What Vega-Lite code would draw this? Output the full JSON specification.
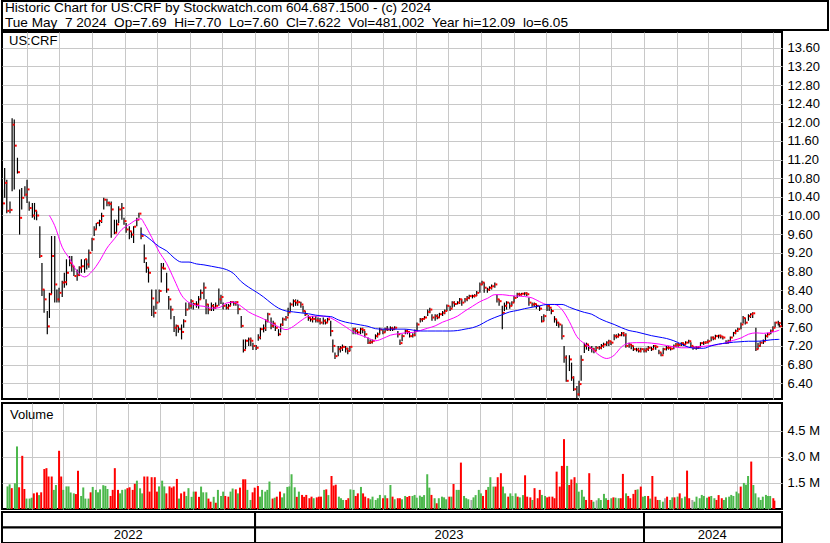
{
"$schema":"https://vega.github.io/schema/vega-lite/v6.json",
"background":"white",
"padding":0,
"spacing":0,
"config":{
 "view":{"stroke":"#000","strokeWidth":2},
 "font":"Liberation Sans",
 "axis":{"gridColor":"#c8c8c8","gridWidth":1,"gridOpacity":1,"labelFont":"Liberation Sans","labelColor":"#000","labelFontSize":13,"ticks":false,"domain":false,"labelOverlap":false},
 "text":{"font":"Liberation Sans","fontSize":13,"color":"#000"}
},
"datasets":{
"hdr":[{"r":1,"t":"Historic Chart for US:CRF by Stockwatch.com 604.687.1500 - (c) 2024"},{"r":2,"t":"Tue May\u00a0 7 2024\u00a0 Op=7.69\u00a0 Hi=7.70\u00a0 Lo=7.60\u00a0 Cl=7.622\u00a0 Vol=481,002\u00a0 Year hi=12.09\u00a0 lo=6.05"}],
"yr":[
{"yr":"2022","b":"a","s":"2022-05-08T12:00:00Z","e":"2023-01-01","m":"2022-09-04"},
{"yr":"2022","b":"b","s":"2022-05-08T12:00:00Z","e":"2023-01-01","m":"2022-09-04"},
{"yr":"2023","b":"a","s":"2023-01-01","e":"2024-01-01","m":"2023-07-02"},
{"yr":"2023","b":"b","s":"2023-01-01","e":"2024-01-01","m":"2023-07-02"},
{"yr":"2024","b":"a","s":"2024-01-01","e":"2024-05-09T12:00:00Z","m":"2024-03-05"},
{"yr":"2024","b":"b","s":"2024-01-01","e":"2024-05-09T12:00:00Z","m":"2024-03-05"}],
"ma":[
{"d":"2022-06-22","m1":10.0},{"d":"2022-06-27","m1":9.78},{"d":"2022-07-04","m1":9.32},{"d":"2022-07-11","m1":9.07},{"d":"2022-07-18","m1":8.80},{"d":"2022-07-25","m1":8.68},{"d":"2022-08-01","m1":8.80},{"d":"2022-08-08","m1":9.02},{"d":"2022-08-15","m1":9.30},{"d":"2022-08-22","m1":9.50},{"d":"2022-08-29","m1":9.70},{"d":"2022-09-05","m1":9.81},{"d":"2022-09-12","m1":9.91},{"d":"2022-09-16","m1":9.93,"m2":9.61},{"d":"2022-09-19","m1":9.83,"m2":9.58},{"d":"2022-09-26","m1":9.53,"m2":9.46},{"d":"2022-10-03","m1":9.22,"m2":9.33},{"d":"2022-10-10","m1":8.97,"m2":9.24},{"d":"2022-10-17","m1":8.63,"m2":9.09},{"d":"2022-10-24","m1":8.29,"m2":9.0},{"d":"2022-10-31","m1":8.13,"m2":9.0},{"d":"2022-11-07","m1":8.07,"m2":8.96},{"d":"2022-11-14","m1":8.05,"m2":8.94},{"d":"2022-11-21","m1":8.01,"m2":8.91},{"d":"2022-11-28","m1":8.02,"m2":8.88},{"d":"2022-12-05","m1":8.12,"m2":8.84},{"d":"2022-12-12","m1":8.14,"m2":8.75},{"d":"2022-12-19","m1":8.05,"m2":8.58},{"d":"2022-12-26","m1":7.93,"m2":8.46},
{"d":"2023-01-02","m1":7.85,"m2":8.36},{"d":"2023-01-09","m1":7.78,"m2":8.25},{"d":"2023-01-16","m1":7.69,"m2":8.12},{"d":"2023-01-23","m1":7.61,"m2":8.01},{"d":"2023-01-30","m1":7.55,"m2":7.95},{"d":"2023-02-06","m1":7.62,"m2":7.93},{"d":"2023-02-13","m1":7.74,"m2":7.91},{"d":"2023-02-20","m1":7.83,"m2":7.89},{"d":"2023-02-27","m1":7.84,"m2":7.86},{"d":"2023-03-06","m1":7.84,"m2":7.84},{"d":"2023-03-13","m1":7.80,"m2":7.83},{"d":"2023-03-20","m1":7.71,"m2":7.76},{"d":"2023-03-27","m1":7.61,"m2":7.71},{"d":"2023-04-03","m1":7.50,"m2":7.68},{"d":"2023-04-10","m1":7.43,"m2":7.65},{"d":"2023-04-17","m1":7.37,"m2":7.62},{"d":"2023-04-24","m1":7.31,"m2":7.57},{"d":"2023-05-01","m1":7.36,"m2":7.56},{"d":"2023-05-08","m1":7.43,"m2":7.56},{"d":"2023-05-15","m1":7.46,"m2":7.56},{"d":"2023-05-22","m1":7.48,"m2":7.56},{"d":"2023-05-29","m1":7.49,"m2":7.54},{"d":"2023-06-05","m1":7.53,"m2":7.52},{"d":"2023-06-12","m1":7.58,"m2":7.52},{"d":"2023-06-19","m1":7.63,"m2":7.52},{"d":"2023-06-26","m1":7.71,"m2":7.52},{"d":"2023-07-03","m1":7.77,"m2":7.52},{"d":"2023-07-10","m1":7.84,"m2":7.53},{"d":"2023-07-17","m1":7.95,"m2":7.56},{"d":"2023-07-24","m1":8.05,"m2":7.59},{"d":"2023-07-31","m1":8.15,"m2":7.65},{"d":"2023-08-07","m1":8.22,"m2":7.74},{"d":"2023-08-14","m1":8.30,"m2":7.81},{"d":"2023-08-21","m1":8.30,"m2":7.87},{"d":"2023-08-28","m1":8.28,"m2":7.93},{"d":"2023-09-04","m1":8.27,"m2":7.96},{"d":"2023-09-11","m1":8.26,"m2":8.0},{"d":"2023-09-18","m1":8.23,"m2":8.03},{"d":"2023-09-25","m1":8.15,"m2":8.06},{"d":"2023-10-02","m1":8.09,"m2":8.09},{"d":"2023-10-09","m1":8.09,"m2":8.09},{"d":"2023-10-16","m1":7.98,"m2":8.09},{"d":"2023-10-23","m1":7.72,"m2":8.03},{"d":"2023-10-30","m1":7.40,"m2":7.97},{"d":"2023-11-06","m1":7.25,"m2":7.92},{"d":"2023-11-13","m1":7.14,"m2":7.88},{"d":"2023-11-20","m1":7.0,"m2":7.79},{"d":"2023-11-27","m1":6.93,"m2":7.72},{"d":"2023-12-04","m1":7.0,"m2":7.66},{"d":"2023-12-11","m1":7.18,"m2":7.59},{"d":"2023-12-18","m1":7.26,"m2":7.53},{"d":"2023-12-25","m1":7.27,"m2":7.50},
{"d":"2024-01-01","m1":7.27,"m2":7.46},{"d":"2024-01-08","m1":7.26,"m2":7.42},{"d":"2024-01-15","m1":7.24,"m2":7.39},{"d":"2024-01-22","m1":7.21,"m2":7.36},{"d":"2024-01-29","m1":7.18,"m2":7.31},{"d":"2024-02-05","m1":7.16,"m2":7.24},{"d":"2024-02-12","m1":7.16,"m2":7.17},{"d":"2024-02-19","m1":7.18,"m2":7.15},{"d":"2024-02-26","m1":7.19,"m2":7.15},{"d":"2024-03-04","m1":7.21,"m2":7.20},{"d":"2024-03-11","m1":7.23,"m2":7.24},{"d":"2024-03-18","m1":7.27,"m2":7.26},{"d":"2024-03-25","m1":7.32,"m2":7.28},{"d":"2024-04-01","m1":7.37,"m2":7.29},{"d":"2024-04-08","m1":7.45,"m2":7.30},{"d":"2024-04-15","m1":7.48,"m2":7.30},{"d":"2024-04-22","m1":7.47,"m2":7.31},{"d":"2024-04-29","m1":7.49,"m2":7.33},{"d":"2024-05-06","m1":7.53,"m2":7.34},{"d":"2024-05-07","m1":7.54,"m2":7.34}],
"px":[
{"d":"2022-05-09","h":10.56,"l":10.13,"c":10.26,"v":1.3},{"d":"2022-05-11","h":11.02,"l":10.38,"c":10.7,"v":1.42},{"d":"2022-05-13","h":10.77,"l":10.05,"c":10.1,"v":1.2},
{"d":"2022-05-16","h":10.3,"l":10.05,"c":10.12,"v":1.48},{"d":"2022-05-18","h":12.09,"l":10.52,"c":11.95,"v":3.6},{"d":"2022-05-20","h":12.06,"l":10.56,"c":11.5,"v":1.25},
{"d":"2022-05-23","h":11.24,"l":10.9,"c":10.93,"v":3.06},{"d":"2022-05-25","h":10.56,"l":9.59,"c":9.95,"v":1.15},{"d":"2022-05-27","h":10.59,"l":10.13,"c":10.38,"v":0.6},
{"d":"2022-05-30","h":10.63,"l":10.41,"c":10.45,"v":0.6},{"d":"2022-06-01","h":10.77,"l":10.27,"c":10.56,"v":0.65},{"d":"2022-06-03","h":10.3,"l":10.1,"c":10.16,"v":0.9},
{"d":"2022-06-06","h":10.27,"l":9.95,"c":10.0,"v":0.95},{"d":"2022-06-08","h":10.27,"l":9.91,"c":10.1,"v":0.8},{"d":"2022-06-10","h":10.1,"l":9.9,"c":10.0,"v":0.96},
{"d":"2022-06-13","h":9.77,"l":9.09,"c":9.13,"v":2.3},{"d":"2022-06-15","h":8.98,"l":8.27,"c":8.41,"v":2.35},{"d":"2022-06-17","h":8.41,"l":7.91,"c":8.2,"v":1.87},
{"d":"2022-06-20","h":7.95,"l":7.45,"c":7.62,"v":1.87},{"d":"2022-06-22","h":8.34,"l":7.8,"c":8.31,"v":1.1},{"d":"2022-06-24","h":9.56,"l":8.31,"c":9.13,"v":1.38},
{"d":"2022-06-27","h":9.56,"l":8.13,"c":8.52,"v":3.35},{"d":"2022-06-29","h":8.41,"l":8.13,"c":8.2,"v":1.87},{"d":"2022-07-01","h":8.45,"l":8.13,"c":8.34,"v":1.1},
{"d":"2022-07-04","h":8.6,"l":8.25,"c":8.56,"v":1.3},{"d":"2022-07-06","h":8.77,"l":8.45,"c":8.57,"v":1.3},{"d":"2022-07-08","h":9.06,"l":8.5,"c":8.77,"v":0.95},
{"d":"2022-07-11","h":9.13,"l":8.91,"c":8.98,"v":0.9},{"d":"2022-07-13","h":9.13,"l":8.8,"c":8.91,"v":0.86},{"d":"2022-07-15","h":8.91,"l":8.7,"c":8.7,"v":2.2},
{"d":"2022-07-18","h":8.84,"l":8.6,"c":8.72,"v":0.75},{"d":"2022-07-20","h":8.91,"l":8.7,"c":8.88,"v":1.24},{"d":"2022-07-22","h":9.06,"l":8.77,"c":8.91,"v":0.6},
{"d":"2022-07-25","h":9.06,"l":8.77,"c":9.06,"v":0.6},{"d":"2022-07-27","h":9.06,"l":8.84,"c":8.95,"v":0.96},{"d":"2022-07-29","h":9.27,"l":8.88,"c":9.2,"v":1.27},
{"d":"2022-08-01","h":9.52,"l":9.24,"c":9.49,"v":1.1},{"d":"2022-08-03","h":9.77,"l":9.56,"c":9.7,"v":0.96},{"d":"2022-08-05","h":9.84,"l":9.7,"c":9.84,"v":1.13},
{"d":"2022-08-08","h":9.91,"l":9.77,"c":9.88,"v":1.37},{"d":"2022-08-10","h":10.06,"l":9.84,"c":9.99,"v":1.33},{"d":"2022-08-12","h":10.38,"l":10.13,"c":10.34,"v":1.15},
{"d":"2022-08-15","h":10.36,"l":10.2,"c":10.27,"v":0.75},{"d":"2022-08-17","h":10.3,"l":10.2,"c":10.25,"v":1.1},{"d":"2022-08-19","h":10.3,"l":9.52,"c":10.13,"v":2.35},
{"d":"2022-08-22","h":9.91,"l":9.6,"c":9.63,"v":1.1},{"d":"2022-08-24","h":9.91,"l":9.63,"c":9.81,"v":0.9},{"d":"2022-08-26","h":10.2,"l":9.84,"c":10.13,"v":1.1},
{"d":"2022-08-29","h":10.27,"l":9.91,"c":10.16,"v":1.13},{"d":"2022-08-31","h":9.95,"l":9.8,"c":9.88,"v":1.2},{"d":"2022-09-02","h":9.84,"l":9.63,"c":9.7,"v":1.25},
{"d":"2022-09-05","h":9.77,"l":9.49,"c":9.66,"v":1.1},{"d":"2022-09-07","h":9.66,"l":9.52,"c":9.59,"v":1.45},{"d":"2022-09-09","h":9.77,"l":9.41,"c":9.76,"v":1.63},
{"d":"2022-09-12","h":9.95,"l":9.77,"c":9.91,"v":1.19},{"d":"2022-09-14","h":10.06,"l":9.95,"c":10.04,"v":0.9},{"d":"2022-09-16","h":9.74,"l":9.49,"c":9.56,"v":1.87},
{"d":"2022-09-19","h":9.38,"l":8.98,"c":9.08,"v":1.87},{"d":"2022-09-21","h":9.0,"l":8.77,"c":8.88,"v":1.0},{"d":"2022-09-23","h":8.88,"l":8.56,"c":8.77,"v":1.83},
{"d":"2022-09-26","h":8.41,"l":7.84,"c":8.22,"v":1.83},{"d":"2022-09-28","h":8.06,"l":7.81,"c":7.91,"v":1.0},{"d":"2022-09-30","h":8.41,"l":7.98,"c":8.13,"v":1.3},
{"d":"2022-10-03","h":8.41,"l":8.13,"c":8.38,"v":1.63},{"d":"2022-10-05","h":8.98,"l":8.56,"c":8.88,"v":1.3},{"d":"2022-10-07","h":8.98,"l":8.84,"c":8.86,"v":0.9},
{"d":"2022-10-10","h":8.77,"l":8.34,"c":8.41,"v":1.3},{"d":"2022-10-12","h":8.27,"l":7.98,"c":8.2,"v":1.23},{"d":"2022-10-14","h":8.06,"l":7.77,"c":7.98,"v":1.3},
{"d":"2022-10-17","h":7.84,"l":7.5,"c":7.59,"v":1.73},{"d":"2022-10-19","h":7.66,"l":7.41,"c":7.63,"v":0.6},{"d":"2022-10-21","h":7.63,"l":7.48,"c":7.56,"v":0.9},
{"d":"2022-10-24","h":7.66,"l":7.34,"c":7.5,"v":1.0},{"d":"2022-10-26","h":7.77,"l":7.59,"c":7.73,"v":0.75},{"d":"2022-10-28","h":8.13,"l":7.84,"c":7.98,"v":1.2},
{"d":"2022-10-31","h":8.13,"l":7.98,"c":8.06,"v":0.7},{"d":"2022-11-02","h":8.2,"l":8.0,"c":8.16,"v":1.0},{"d":"2022-11-04","h":8.13,"l":7.98,"c":8.1,"v":1.0},
{"d":"2022-11-07","h":8.16,"l":8.02,"c":8.09,"v":0.7},{"d":"2022-11-09","h":8.27,"l":8.0,"c":8.2,"v":1.29},{"d":"2022-11-11","h":8.41,"l":8.2,"c":8.34,"v":0.96},
{"d":"2022-11-14","h":8.56,"l":8.2,"c":8.45,"v":0.96},{"d":"2022-11-16","h":8.2,"l":7.88,"c":8.09,"v":0.6},{"d":"2022-11-18","h":8.1,"l":7.88,"c":7.98,"v":0.42},
{"d":"2022-11-21","h":8.13,"l":7.95,"c":8.06,"v":0.7},{"d":"2022-11-23","h":8.1,"l":7.95,"c":8.02,"v":0.36},{"d":"2022-11-25","h":8.13,"l":8.0,"c":8.06,"v":1.1},
{"d":"2022-11-28","h":8.43,"l":8.06,"c":8.2,"v":0.75},{"d":"2022-11-30","h":8.3,"l":8.1,"c":8.25,"v":1.0},{"d":"2022-12-02","h":8.13,"l":7.98,"c":8.06,"v":0.75},
{"d":"2022-12-05","h":8.1,"l":7.98,"c":8.02,"v":0.71},{"d":"2022-12-07","h":8.1,"l":7.98,"c":8.06,"v":1.0},{"d":"2022-12-09","h":8.16,"l":8.06,"c":8.14,"v":1.18},
{"d":"2022-12-12","h":8.16,"l":8.06,"c":8.12,"v":1.13},{"d":"2022-12-14","h":8.16,"l":8.06,"c":8.14,"v":0.9},{"d":"2022-12-16","h":8.1,"l":7.88,"c":7.99,"v":1.23},
{"d":"2022-12-19","h":7.84,"l":7.59,"c":7.63,"v":1.71},{"d":"2022-12-21","h":7.34,"l":7.06,"c":7.11,"v":1.71},{"d":"2022-12-23","h":7.34,"l":7.13,"c":7.31,"v":1.1},
{"d":"2022-12-26","h":7.38,"l":7.2,"c":7.34,"v":0.52},{"d":"2022-12-28","h":7.38,"l":7.2,"c":7.31,"v":0.96},{"d":"2022-12-30","h":7.27,"l":7.11,"c":7.2,"v":1.23},
{"d":"2023-01-02","h":7.22,"l":7.11,"c":7.16,"v":1.33},{"d":"2023-01-04","h":7.45,"l":7.31,"c":7.38,"v":0.71},{"d":"2023-01-06","h":7.59,"l":7.34,"c":7.56,"v":1.1},
{"d":"2023-01-09","h":7.66,"l":7.49,"c":7.58,"v":1.0},{"d":"2023-01-11","h":7.77,"l":7.52,"c":7.74,"v":1.1},{"d":"2023-01-13","h":7.91,"l":7.7,"c":7.88,"v":1.58},
{"d":"2023-01-16","h":7.81,"l":7.56,"c":7.63,"v":0.6},{"d":"2023-01-18","h":7.74,"l":7.59,"c":7.68,"v":0.65},{"d":"2023-01-20","h":7.66,"l":7.52,"c":7.59,"v":0.71},
{"d":"2023-01-23","h":7.56,"l":7.41,"c":7.45,"v":1.0},{"d":"2023-01-25","h":7.68,"l":7.49,"c":7.66,"v":0.67},{"d":"2023-01-27","h":7.81,"l":7.63,"c":7.77,"v":0.9},
{"d":"2023-01-30","h":7.84,"l":7.74,"c":7.81,"v":1.27},{"d":"2023-02-01","h":8.02,"l":7.84,"c":7.92,"v":1.3},{"d":"2023-02-03","h":8.13,"l":7.95,"c":8.09,"v":2.0},
{"d":"2023-02-06","h":8.2,"l":8.04,"c":8.16,"v":1.25},{"d":"2023-02-08","h":8.2,"l":8.06,"c":8.13,"v":0.7},{"d":"2023-02-10","h":8.19,"l":8.06,"c":8.14,"v":1.0},
{"d":"2023-02-13","h":8.15,"l":8.02,"c":8.09,"v":0.81},{"d":"2023-02-15","h":8.06,"l":7.91,"c":7.95,"v":0.7},{"d":"2023-02-17","h":7.95,"l":7.84,"c":7.88,"v":0.81},
{"d":"2023-02-20","h":7.86,"l":7.74,"c":7.8,"v":0.62},{"d":"2023-02-22","h":7.81,"l":7.72,"c":7.77,"v":0.71},{"d":"2023-02-24","h":7.84,"l":7.7,"c":7.78,"v":0.62},
{"d":"2023-02-27","h":7.84,"l":7.7,"c":7.75,"v":0.67},{"d":"2023-03-01","h":7.81,"l":7.7,"c":7.74,"v":0.71},{"d":"2023-03-03","h":7.8,"l":7.66,"c":7.7,"v":0.71},
{"d":"2023-03-06","h":7.81,"l":7.66,"c":7.74,"v":1.1},{"d":"2023-03-08","h":7.77,"l":7.66,"c":7.7,"v":1.13},{"d":"2023-03-10","h":7.8,"l":7.7,"c":7.77,"v":0.8},
{"d":"2023-03-13","h":7.74,"l":7.41,"c":7.52,"v":1.9},{"d":"2023-03-15","h":7.34,"l":7.06,"c":7.2,"v":1.35},{"d":"2023-03-17","h":7.06,"l":6.92,"c":6.98,"v":1.4},
{"d":"2023-03-20","h":7.2,"l":6.98,"c":7.13,"v":0.71},{"d":"2023-03-22","h":7.2,"l":7.06,"c":7.16,"v":0.62},{"d":"2023-03-24","h":7.23,"l":7.09,"c":7.18,"v":0.52},
{"d":"2023-03-27","h":7.2,"l":7.06,"c":7.14,"v":0.52},{"d":"2023-03-29","h":7.16,"l":7.02,"c":7.09,"v":0.62},{"d":"2023-03-31","h":7.2,"l":7.09,"c":7.18,"v":1.13},
{"d":"2023-04-03","h":7.59,"l":7.45,"c":7.56,"v":1.1},{"d":"2023-04-05","h":7.59,"l":7.45,"c":7.52,"v":0.75},{"d":"2023-04-07","h":7.56,"l":7.45,"c":7.49,"v":0.9},
{"d":"2023-04-10","h":7.59,"l":7.45,"c":7.56,"v":1.27},{"d":"2023-04-12","h":7.59,"l":7.47,"c":7.54,"v":0.9},{"d":"2023-04-14","h":7.52,"l":7.38,"c":7.45,"v":0.71},
{"d":"2023-04-17","h":7.38,"l":7.24,"c":7.27,"v":0.62},{"d":"2023-04-19","h":7.34,"l":7.24,"c":7.28,"v":0.56},{"d":"2023-04-21","h":7.34,"l":7.25,"c":7.31,"v":0.71},
{"d":"2023-04-24","h":7.45,"l":7.34,"c":7.41,"v":0.52},{"d":"2023-04-26","h":7.49,"l":7.38,"c":7.45,"v":0.62},{"d":"2023-04-28","h":7.59,"l":7.45,"c":7.55,"v":0.81},
{"d":"2023-05-01","h":7.56,"l":7.45,"c":7.49,"v":0.62},{"d":"2023-05-03","h":7.59,"l":7.49,"c":7.56,"v":0.79},{"d":"2023-05-05","h":7.63,"l":7.52,"c":7.55,"v":0.62},
{"d":"2023-05-08","h":7.62,"l":7.52,"c":7.58,"v":1.38},{"d":"2023-05-10","h":7.61,"l":7.52,"c":7.56,"v":0.71},{"d":"2023-05-12","h":7.62,"l":7.55,"c":7.59,"v":0.56},
{"d":"2023-05-15","h":7.52,"l":7.38,"c":7.45,"v":0.62},{"d":"2023-05-17","h":7.34,"l":7.22,"c":7.26,"v":0.62},{"d":"2023-05-19","h":7.45,"l":7.3,"c":7.41,"v":0.56},
{"d":"2023-05-22","h":7.55,"l":7.45,"c":7.52,"v":0.75},{"d":"2023-05-24","h":7.55,"l":7.45,"c":7.5,"v":0.69},{"d":"2023-05-26","h":7.48,"l":7.38,"c":7.41,"v":0.75},
{"d":"2023-05-29","h":7.47,"l":7.38,"c":7.43,"v":0.75},{"d":"2023-05-31","h":7.55,"l":7.41,"c":7.52,"v":0.81},{"d":"2023-06-02","h":7.7,"l":7.52,"c":7.66,"v":0.65},
{"d":"2023-06-05","h":7.8,"l":7.7,"c":7.77,"v":0.77},{"d":"2023-06-07","h":7.8,"l":7.72,"c":7.78,"v":0.7},{"d":"2023-06-09","h":7.84,"l":7.77,"c":7.81,"v":0.8},
{"d":"2023-06-12","h":7.98,"l":7.84,"c":7.93,"v":2.0},{"d":"2023-06-14","h":8.02,"l":7.9,"c":7.98,"v":1.23},{"d":"2023-06-16","h":7.88,"l":7.74,"c":7.81,"v":0.81},
{"d":"2023-06-19","h":7.88,"l":7.74,"c":7.84,"v":0.62},{"d":"2023-06-21","h":7.88,"l":7.77,"c":7.81,"v":0.33},{"d":"2023-06-23","h":7.91,"l":7.8,"c":7.88,"v":0.62},
{"d":"2023-06-26","h":7.95,"l":7.84,"c":7.91,"v":0.71},{"d":"2023-06-28","h":7.98,"l":7.88,"c":7.95,"v":0.67},{"d":"2023-06-30","h":8.09,"l":7.95,"c":8.06,"v":0.56},
{"d":"2023-07-03","h":8.06,"l":7.95,"c":8.0,"v":0.71},{"d":"2023-07-05","h":8.16,"l":8.02,"c":8.13,"v":0.71},{"d":"2023-07-07","h":8.16,"l":8.04,"c":8.1,"v":1.44},
{"d":"2023-07-10","h":8.16,"l":8.09,"c":8.13,"v":1.1},{"d":"2023-07-12","h":8.23,"l":8.1,"c":8.2,"v":1.1},{"d":"2023-07-14","h":8.2,"l":8.06,"c":8.13,"v":2.67},
{"d":"2023-07-17","h":8.23,"l":8.13,"c":8.2,"v":0.75},{"d":"2023-07-19","h":8.27,"l":8.16,"c":8.23,"v":0.62},{"d":"2023-07-21","h":8.3,"l":8.2,"c":8.27,"v":0.56},
{"d":"2023-07-24","h":8.3,"l":8.22,"c":8.27,"v":0.52},{"d":"2023-07-26","h":8.31,"l":8.24,"c":8.28,"v":0.67},{"d":"2023-07-28","h":8.38,"l":8.27,"c":8.34,"v":0.8},
{"d":"2023-07-31","h":8.56,"l":8.34,"c":8.52,"v":1.1},{"d":"2023-08-02","h":8.6,"l":8.5,"c":8.56,"v":0.9},{"d":"2023-08-04","h":8.56,"l":8.34,"c":8.45,"v":0.75},
{"d":"2023-08-07","h":8.45,"l":8.34,"c":8.41,"v":1.1},{"d":"2023-08-09","h":8.48,"l":8.38,"c":8.45,"v":1.27},{"d":"2023-08-11","h":8.52,"l":8.41,"c":8.48,"v":1.83},
{"d":"2023-08-14","h":8.56,"l":8.45,"c":8.52,"v":1.29},{"d":"2023-08-16","h":8.3,"l":8.13,"c":8.2,"v":1.29},{"d":"2023-08-18","h":8.2,"l":8.06,"c":8.16,"v":1.83},
{"d":"2023-08-21","h":8.06,"l":7.56,"c":7.91,"v":2.06},{"d":"2023-08-23","h":8.13,"l":7.95,"c":8.06,"v":1.29},{"d":"2023-08-25","h":8.16,"l":7.98,"c":8.13,"v":0.9},
{"d":"2023-08-28","h":8.13,"l":8.0,"c":8.06,"v":0.71},{"d":"2023-08-30","h":8.16,"l":8.06,"c":8.13,"v":0.9},{"d":"2023-09-01","h":8.27,"l":8.13,"c":8.23,"v":0.75},
{"d":"2023-09-04","h":8.34,"l":8.23,"c":8.31,"v":0.9},{"d":"2023-09-06","h":8.34,"l":8.27,"c":8.3,"v":0.71},{"d":"2023-09-08","h":8.34,"l":8.28,"c":8.32,"v":0.67},
{"d":"2023-09-11","h":8.35,"l":8.28,"c":8.33,"v":0.8},{"d":"2023-09-13","h":8.35,"l":8.27,"c":8.31,"v":1.94},{"d":"2023-09-15","h":8.24,"l":8.06,"c":8.13,"v":0.71},
{"d":"2023-09-18","h":8.13,"l":8.04,"c":8.09,"v":0.67},{"d":"2023-09-20","h":8.13,"l":8.04,"c":8.1,"v":0.52},{"d":"2023-09-22","h":8.1,"l":8.0,"c":8.06,"v":1.2},
{"d":"2023-09-25","h":8.06,"l":7.95,"c":8.0,"v":0.62},{"d":"2023-09-27","h":7.84,"l":7.7,"c":7.73,"v":1.1},{"d":"2023-09-29","h":7.88,"l":7.73,"c":7.84,"v":0.81},
{"d":"2023-10-02","h":8.09,"l":7.95,"c":8.06,"v":0.75},{"d":"2023-10-04","h":8.09,"l":7.95,"c":8.02,"v":0.67},{"d":"2023-10-06","h":8.0,"l":7.88,"c":7.95,"v":0.71},
{"d":"2023-10-09","h":7.84,"l":7.7,"c":7.77,"v":0.71},{"d":"2023-10-11","h":7.77,"l":7.63,"c":7.7,"v":0.62},{"d":"2023-10-13","h":7.7,"l":7.59,"c":7.66,"v":2.15},
{"d":"2023-10-16","h":7.66,"l":7.34,"c":7.41,"v":1.29},{"d":"2023-10-18","h":7.2,"l":6.84,"c":6.95,"v":2.48},{"d":"2023-10-20","h":7.0,"l":6.43,"c":6.45,"v":4.02},
{"d":"2023-10-23","h":7.0,"l":6.66,"c":6.91,"v":2.48},{"d":"2023-10-25","h":6.84,"l":6.45,"c":6.52,"v":1.38},{"d":"2023-10-27","h":6.55,"l":6.23,"c":6.27,"v":1.7},
{"d":"2023-10-30","h":6.34,"l":6.08,"c":6.16,"v":1.83},{"d":"2023-11-01","h":6.45,"l":6.12,"c":6.38,"v":1.5},{"d":"2023-11-03","h":7.0,"l":6.45,"c":6.9,"v":1.0},
{"d":"2023-11-06","h":7.27,"l":7.05,"c":7.2,"v":1.1},{"d":"2023-11-08","h":7.27,"l":7.12,"c":7.23,"v":0.71},{"d":"2023-11-10","h":7.22,"l":7.09,"c":7.16,"v":0.52},
{"d":"2023-11-13","h":7.2,"l":7.06,"c":7.13,"v":2.06},{"d":"2023-11-15","h":7.16,"l":7.04,"c":7.09,"v":0.52},{"d":"2023-11-17","h":7.2,"l":7.09,"c":7.16,"v":0.42},
{"d":"2023-11-20","h":7.2,"l":7.12,"c":7.16,"v":0.5},{"d":"2023-11-22","h":7.24,"l":7.13,"c":7.2,"v":0.62},{"d":"2023-11-24","h":7.27,"l":7.16,"c":7.23,"v":0.52},
{"d":"2023-11-27","h":7.3,"l":7.2,"c":7.27,"v":0.87},{"d":"2023-11-29","h":7.33,"l":7.2,"c":7.3,"v":0.62},{"d":"2023-12-01","h":7.3,"l":7.22,"c":7.27,"v":0.52},
{"d":"2023-12-04","h":7.45,"l":7.32,"c":7.41,"v":0.62},{"d":"2023-12-06","h":7.45,"l":7.36,"c":7.4,"v":0.67},{"d":"2023-12-08","h":7.47,"l":7.38,"c":7.43,"v":0.65},
{"d":"2023-12-11","h":7.5,"l":7.41,"c":7.47,"v":0.62},{"d":"2023-12-13","h":7.5,"l":7.4,"c":7.43,"v":0.62},{"d":"2023-12-15","h":7.47,"l":7.16,"c":7.2,"v":2.02},
{"d":"2023-12-18","h":7.27,"l":7.16,"c":7.23,"v":0.9},{"d":"2023-12-20","h":7.24,"l":7.13,"c":7.2,"v":0.75},{"d":"2023-12-22","h":7.2,"l":7.09,"c":7.13,"v":0.62},
{"d":"2023-12-25","h":7.16,"l":7.08,"c":7.12,"v":0.87},{"d":"2023-12-27","h":7.16,"l":7.06,"c":7.09,"v":1.1},{"d":"2023-12-29","h":7.16,"l":7.06,"c":7.13,"v":1.13},
{"d":"2024-01-01","h":7.15,"l":7.06,"c":7.1,"v":1.29},{"d":"2024-01-03","h":7.16,"l":7.06,"c":7.13,"v":0.71},{"d":"2024-01-05","h":7.2,"l":7.09,"c":7.16,"v":0.75},
{"d":"2024-01-08","h":7.18,"l":7.09,"c":7.13,"v":0.75},{"d":"2024-01-10","h":7.22,"l":7.12,"c":7.2,"v":0.6},{"d":"2024-01-12","h":7.22,"l":7.12,"c":7.18,"v":1.9},
{"d":"2024-01-15","h":7.12,"l":7.02,"c":7.06,"v":0.71},{"d":"2024-01-17","h":7.06,"l":6.98,"c":7.0,"v":0.52},{"d":"2024-01-19","h":7.16,"l":7.02,"c":7.13,"v":0.52},
{"d":"2024-01-22","h":7.2,"l":7.1,"c":7.16,"v":0.42},{"d":"2024-01-24","h":7.2,"l":7.12,"c":7.16,"v":0.62},{"d":"2024-01-26","h":7.18,"l":7.1,"c":7.14,"v":0.71},
{"d":"2024-01-29","h":7.23,"l":7.13,"c":7.2,"v":0.52},{"d":"2024-01-31","h":7.26,"l":7.18,"c":7.23,"v":0.67},{"d":"2024-02-02","h":7.26,"l":7.18,"c":7.22,"v":0.67},
{"d":"2024-02-05","h":7.28,"l":7.2,"c":7.26,"v":0.71},{"d":"2024-02-07","h":7.27,"l":7.2,"c":7.23,"v":0.9},{"d":"2024-02-09","h":7.3,"l":7.22,"c":7.27,"v":0.62},
{"d":"2024-02-12","h":7.33,"l":7.25,"c":7.3,"v":0.71},{"d":"2024-02-14","h":7.28,"l":7.16,"c":7.2,"v":2.21},{"d":"2024-02-16","h":7.2,"l":7.12,"c":7.16,"v":0.62},
{"d":"2024-02-19","h":7.2,"l":7.12,"c":7.16,"v":0.52},{"d":"2024-02-21","h":7.2,"l":7.14,"c":7.18,"v":0.42},{"d":"2024-02-23","h":7.28,"l":7.18,"c":7.26,"v":0.71},
{"d":"2024-02-26","h":7.3,"l":7.22,"c":7.27,"v":0.62},{"d":"2024-02-28","h":7.3,"l":7.24,"c":7.28,"v":0.81},{"d":"2024-03-01","h":7.34,"l":7.25,"c":7.3,"v":0.75},
{"d":"2024-03-04","h":7.4,"l":7.3,"c":7.38,"v":0.65},{"d":"2024-03-06","h":7.4,"l":7.32,"c":7.36,"v":0.71},{"d":"2024-03-08","h":7.44,"l":7.34,"c":7.41,"v":0.75},
{"d":"2024-03-11","h":7.44,"l":7.36,"c":7.42,"v":0.62},{"d":"2024-03-13","h":7.44,"l":7.36,"c":7.4,"v":0.52},{"d":"2024-03-15","h":7.41,"l":7.34,"c":7.38,"v":0.8},
{"d":"2024-03-18","h":7.32,"l":7.24,"c":7.27,"v":0.62},{"d":"2024-03-20","h":7.33,"l":7.25,"c":7.3,"v":0.52},{"d":"2024-03-22","h":7.4,"l":7.3,"c":7.38,"v":0.67},
{"d":"2024-03-25","h":7.5,"l":7.4,"c":7.48,"v":0.71},{"d":"2024-03-27","h":7.55,"l":7.45,"c":7.52,"v":0.81},{"d":"2024-03-29","h":7.59,"l":7.5,"c":7.56,"v":0.75},
{"d":"2024-04-01","h":7.7,"l":7.56,"c":7.66,"v":1.0},{"d":"2024-04-03","h":7.84,"l":7.68,"c":7.8,"v":0.9},{"d":"2024-04-05","h":7.8,"l":7.66,"c":7.7,"v":1.29},
{"d":"2024-04-08","h":7.88,"l":7.74,"c":7.84,"v":1.5},{"d":"2024-04-10","h":7.9,"l":7.8,"c":7.88,"v":1.4},{"d":"2024-04-12","h":7.92,"l":7.8,"c":7.9,"v":1.9},
{"d":"2024-04-15","h":7.59,"l":7.09,"c":7.13,"v":2.73},{"d":"2024-04-17","h":7.27,"l":7.13,"c":7.2,"v":1.38},{"d":"2024-04-19","h":7.3,"l":7.18,"c":7.27,"v":0.9},
{"d":"2024-04-22","h":7.34,"l":7.24,"c":7.3,"v":0.67},{"d":"2024-04-24","h":7.45,"l":7.32,"c":7.41,"v":0.52},{"d":"2024-04-26","h":7.48,"l":7.38,"c":7.45,"v":0.71},
{"d":"2024-04-29","h":7.55,"l":7.45,"c":7.52,"v":0.81},{"d":"2024-05-01","h":7.62,"l":7.5,"c":7.59,"v":0.75},{"d":"2024-05-03","h":7.72,"l":7.6,"c":7.7,"v":0.75},
{"d":"2024-05-06","h":7.74,"l":7.64,"c":7.69,"v":0.62},{"d":"2024-05-07","h":7.7,"l":7.6,"c":7.622,"v":0.481}]
},
"vconcat":[
{
 "width":826,"height":29,
 "data":{"name":"hdr"},
 "mark":{"type":"text","align":"left","baseline":"middle","fontSize":13.6},
 "encoding":{
  "x":{"value":3},
  "y":{"field":"r","type":"ordinal","scale":{"type":"point","padding":0.5},"axis":null},
  "text":{"field":"t"}
 }
},
{
 "spacing":2,
 "vconcat":[
 {
  "width":780,"height":367,
  "layer":[
   {"data":{"name":"px"},"mark":{"type":"rule","color":"#000","strokeWidth":1.2,"clip":true},
    "encoding":{
     "x":{"field":"d","type":"temporal","title":null,"scale":{"domain":[{"year":2022,"month":5,"date":8,"hours":12,"utc":true},{"year":2024,"month":5,"date":9,"hours":12,"utc":true}]},
          "axis":{"labels":false,"grid":true,"tickCount":{"interval":"month","step":1},"title":null}},
     "y":{"field":"l","type":"quantitative","title":null,"scale":{"domain":[6.06,13.94],"nice":false,"zero":false},
          "axis":{"orient":"right","values":[6.4,6.8,7.2,7.6,8.0,8.4,8.8,9.2,9.6,10.0,10.4,10.8,11.2,11.6,12.0,12.4,12.8,13.2,13.6],"tickCount":40,"format":".2f","grid":true,"labelPadding":5,"labelOverlap":false,"title":null}},
     "y2":{"field":"h"}
    }},
   {"data":{"name":"px"},"mark":{"type":"square","color":"#ff0000","size":4,"opacity":1,"xOffset":1.5},
    "encoding":{
     "x":{"field":"d","type":"temporal","title":null},
     "y":{"field":"c","type":"quantitative","title":null}
    }},
   {"data":{"name":"ma"},"transform":[{"filter":"isValid(datum.m1)"}],"mark":{"type":"line","color":"#ff00ff","strokeWidth":1,"interpolate":"monotone"},
    "encoding":{
     "x":{"field":"d","type":"temporal","title":null},
     "y":{"field":"m1","type":"quantitative","title":null}
    }},
   {"data":{"name":"ma"},"transform":[{"filter":"isValid(datum.m2)"}],"mark":{"type":"line","color":"#0000ff","strokeWidth":1,"interpolate":"monotone"},
    "encoding":{
     "x":{"field":"d","type":"temporal","title":null},
     "y":{"field":"m2","type":"quantitative","title":null}
    }},
   {"data":{"values":[{"t":"US:CRF"}]},"mark":{"type":"text","align":"left","baseline":"middle","fontSize":13},
    "encoding":{"x":{"value":7},"y":{"value":9},"text":{"field":"t"}}}
  ]
 },
 {
  "width":780,"height":106,
  "layer":[
   {"data":{"name":"px"},
    "transform":[{"window":[{"op":"lag","field":"c","as":"pc"}],"sort":[{"field":"d"}]},
                 {"calculate":"datum.pc == null ? 'up' : (datum.c > datum.pc ? 'up' : (datum.c < datum.pc ? 'down' : 'flat'))","as":"dir"}],
    "mark":{"type":"bar","width":2},
    "encoding":{
     "x":{"field":"d","type":"temporal","title":null,"scale":{"domain":[{"year":2022,"month":5,"date":8,"hours":12,"utc":true},{"year":2024,"month":5,"date":9,"hours":12,"utc":true}]},
          "axis":{"labels":false,"grid":true,"tickCount":{"interval":"month","step":1},"title":null}},
     "y":{"field":"v","type":"quantitative","title":null,"scale":{"domain":[0,6.1],"nice":false},
          "axis":{"orient":"right","values":[1.5,3,4.5],"tickCount":10,"labelExpr":"format(datum.value,'.1f') + ' M'","grid":true,"labelPadding":5,"labelOverlap":false,"title":null}},
     "color":{"field":"dir","type":"nominal","scale":{"domain":["up","down","flat"],"range":["#4cb84c","#ff0000","#a8a8a8"]},"legend":null}
    }},
   {"data":{"values":[{"t":"Volume"}]},"mark":{"type":"text","align":"left","baseline":"middle","fontSize":13},
    "encoding":{"x":{"value":8},"y":{"value":12},"text":{"field":"t"}}}
  ]
 }
 ]
},
{
 "width":780,"height":31,
 "data":{"name":"yr"},
 "layer":[
  {"mark":{"type":"rect","fill":"#fff","stroke":"#000","strokeWidth":2},
   "encoding":{
    "x":{"field":"s","type":"temporal","title":null,"axis":null,"scale":{"domain":[{"year":2022,"month":5,"date":8,"hours":12,"utc":true},{"year":2024,"month":5,"date":9,"hours":12,"utc":true}]}},
    "x2":{"field":"e"},
    "y":{"field":"b","type":"nominal","axis":null,"scale":{"domain":["a","b"],"paddingInner":0,"paddingOuter":0}}
   }},
  {"transform":[{"filter":"datum.b == 'b'"}],
   "mark":{"type":"text","align":"center","baseline":"middle","fontSize":13},
   "encoding":{
    "x":{"field":"m","type":"temporal","title":null,"axis":null},
    "y":{"field":"b","type":"nominal","axis":null},
    "text":{"field":"yr"}
   }}
 ]
}
]
}
